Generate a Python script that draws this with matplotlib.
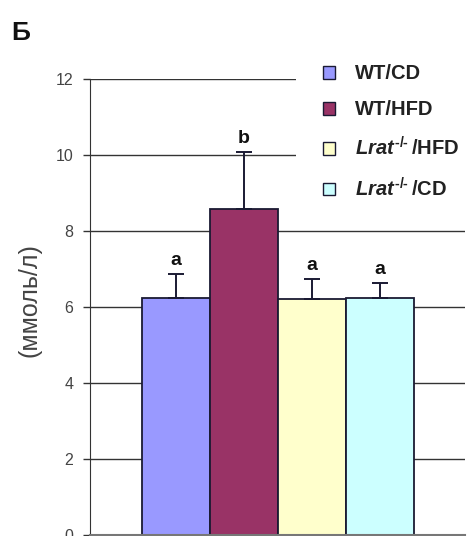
import matplotlib.pyplot as plt
from matplotlib.patches import Patch, Rectangle

groups = ['WT/CD', 'WT/HFD', r'$\mathit{Lrat}^{\text{-/-}}\,$/HFD', r'$\mathit{Lrat}^{\text{-/-}}\,$/CD']
values = [6.24, 8.58, 6.21, 6.24]
errors = [0.63, 1.50, 0.53, 0.39]
letters = ['a', 'b', 'a', 'a']
colors = ['#9999FF', '#993366', '#FFFFCC', '#CCFFFF']
yticks = [0, 2, 4, 6, 8, 10, 12]

plt.rcParams['font.family'] = ['Liberation Sans', 'DejaVu Sans']
plt.rcParams['mathtext.fontset'] = 'custom'
plt.rcParams['mathtext.it'] = 'Liberation Sans:italic:bold'
plt.rcParams['mathtext.rm'] = 'Liberation Sans:bold'

fig = plt.figure(figsize=(4.68, 5.36), dpi=100)
ax = fig.add_axes([0.192, 0.002, 0.802, 0.851])

x = list(range(len(values)))
for y in yticks[1:]:
    ax.axhline(y, color='#333333', lw=1.0, zorder=0)

ax.bar(x, values, width=1.0, color=colors, edgecolor='#1a1a33', linewidth=1.3, zorder=2)
ax.errorbar(x, values, yerr=[[0] * 4, errors], fmt='none', ecolor='#1a1a33',
            elinewidth=1.4, capsize=6, capthick=1.4, zorder=3)
for xi, v, e, t in zip(x, values, errors, letters):
    ax.text(xi, v + e + 0.13, t, ha='center', va='bottom', fontsize=14,
            fontweight='bold', color='#111111')

ax.set_xlim(-1.26, 4.26)
ax.set_ylim(0, 12)
ax.set_yticks(yticks)
ax.set_xticks([])
ax.tick_params(axis='y', length=5, width=1, color='#333333', labelsize=11.5,
               labelcolor='#444444', pad=7)
for s in ['top', 'right']:
    ax.spines[s].set_visible(False)
ax.spines['left'].set_color('#333333')
ax.spines['bottom'].set_color('#777777')
ax.spines['bottom'].set_linewidth(1.5)
ax.set_ylabel('(ммоль/л)', fontsize=18, color='#444444')
ax.yaxis.set_label_coords(-0.128, 0.515)

# white block behind the legend (hides gridlines at 10 and 12)
fig.patches.append(Rectangle((0.633, 0.63), 0.37, 0.27, transform=fig.transFigure,
                             facecolor='white', edgecolor='none', zorder=1))

handles = [Patch(facecolor=c, edgecolor='#1a1a33', linewidth=1.0) for c in colors]
leg = fig.legend(handles, groups, loc='upper left', bbox_to_anchor=(0.655, 0.91),
                 frameon=True, facecolor='white', edgecolor='none', framealpha=1,
                 fontsize=14.5, handlelength=0.6, handleheight=0.6, handletextpad=1.0,
                 labelspacing=0.85, borderpad=0.3)
for t in leg.get_texts():
    t.set_fontweight('bold')
    t.set_color('#222222')
leg.set_zorder(5)

fig.text(0.025, 0.925, 'Б', fontsize=19, fontweight='bold', color='#111111')

fig.savefig('out.png', dpi=100)
